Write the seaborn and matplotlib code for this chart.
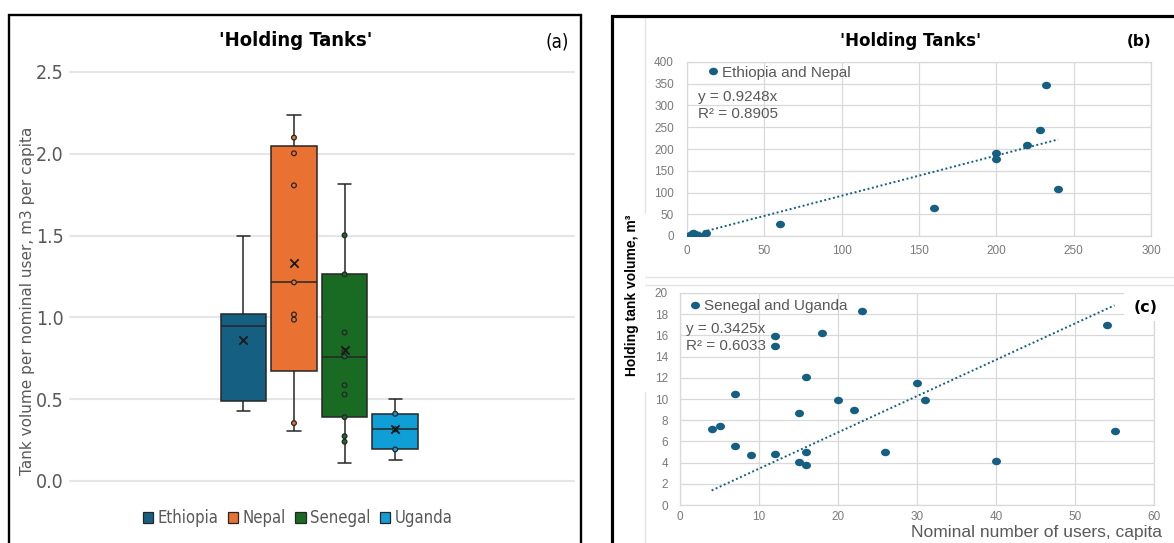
import numpy as np
import pandas as pd
import matplotlib
matplotlib.use("Agg")
import matplotlib.pyplot as plt
from matplotlib import font_manager
from matplotlib.patches import Patch, Rectangle
from matplotlib.lines import Line2D
from matplotlib.path import Path
from matplotlib.transforms import Affine2D
import seaborn as sns

# ---------------- data ----------------
# (a) tank volume per nominal user, m3 per capita
countries = ["Ethiopia", "Nepal", "Senegal", "Uganda"]
country_colors = ["#156082", "#E97132", "#196B24", "#0F9ED5"]
whisker_low = [0.427, 0.307, 0.111, 0.131]
q1 = [0.486, 0.670, 0.390, 0.193]
median = [0.949, 1.214, 0.761, 0.319]
q3 = [1.020, 2.050, 1.263, 0.411]
whisker_high = [1.500, 2.235, 1.813, 0.503]
mean = [0.859, 1.332, 0.802, 0.316]
inner_nepal = [0.354, 0.986, 1.018, 1.214, 1.807, 2.003, 2.099]
inner_senegal = [0.240, 0.274, 0.390, 0.529, 0.586, 0.761, 0.795, 0.908, 1.263, 1.502]
inner_uganda = [0.193, 0.316, 0.411]

# (b) Ethiopia and Nepal: nominal users vs holding tank volume (m3)
users_en = [2, 4, 5, 9, 12, 60, 160, 200, 200, 220, 228, 232, 240]
volume_en = [2, 6, 4, 1, 8, 28, 65, 190, 176, 209, 243, 346, 109]
slope_en, r2_en = 0.9248, 0.8905

# (c) Senegal and Uganda
users_su = [4, 5, 7, 7, 9, 12, 12, 12, 15, 15, 16, 16, 16, 18, 20, 22, 23, 26, 30, 31, 40, 54, 55]
volume_su = [7.2, 7.48, 10.44, 5.6, 4.69, 15.94, 15.0, 4.81, 8.71, 4.03, 12.1, 5.0, 3.77,
             16.26, 9.94, 8.96, 18.33, 5.0, 11.54, 9.94, 4.18, 16.95, 6.95]
slope_su, r2_su = 0.3425, 0.6033

point_color = "#156082"

# ---------------- fonts ----------------
sns.set_style("white")
plt.rcParams["font.family"] = ["DejaVu Sans"]
available = {f.name for f in font_manager.fontManager.ttflist}
if "Liberation Sans Narrow" in available:
    NARROW = dict(fontfamily="Liberation Sans Narrow")
else:
    NARROW = dict(fontfamily="DejaVu Sans", fontstretch="condensed")
SANS = "Liberation Sans" if "Liberation Sans" in available else "DejaVu Sans"

W, H = 1174, 543
fig = plt.figure(figsize=(W / 100, H / 100), dpi=100)


def px_axes(x0, y0, x1, y1):
    return fig.add_axes([x0 / W, 1 - y1 / H, (x1 - x0) / W, (y1 - y0) / H])


def ftext(x, y, s, **kw):
    return fig.text(x / W, 1 - y / H, s, **kw)


def fline(xs, ys, **kw):
    fig.add_artist(Line2D([x / W for x in xs], [1 - y / H for y in ys],
                          transform=fig.transFigure, **kw))


# ---------------- panel (a): box plot ----------------
ax_a = px_axes(70, 72, 574, 481)
summary = pd.DataFrame({
    "country": np.repeat(countries, 5),
    "value": np.column_stack([whisker_low, q1, median, q3, whisker_high]).ravel(),
})
sns.boxplot(data=summary, x="country", y="value", hue="country", order=countries,
            hue_order=countries, palette=country_colors, saturation=1, width=0.9,
            whis=(0, 100), linecolor="#262626", linewidth=1.1, capwidths=0.26,
            legend=False, ax=ax_a)

inner = pd.DataFrame({
    "country": ["Nepal"] * len(inner_nepal) + ["Senegal"] * len(inner_senegal)
               + ["Uganda"] * len(inner_uganda),
    "value": inner_nepal + inner_senegal + inner_uganda,
})
sns.stripplot(data=inner, x="country", y="value", hue="country", order=countries,
              hue_order=countries, palette=country_colors, jitter=False, size=3.4,
              linewidth=0.9, edgecolor="#262626", legend=False, zorder=4, ax=ax_a)

means = pd.DataFrame({"country": countries, "value": mean})
sns.stripplot(data=means, x="country", y="value", order=countries, color="#1a1a1a",
              marker="x", size=6, linewidth=1.3, jitter=False, legend=False,
              zorder=5, ax=ax_a)

ax_a.set_xlim(-3.426, 6.534)
ax_a.set_ylim(0, 2.5)
yt = np.arange(0, 2.51, 0.5)
ax_a.set_yticks(yt, labels=[f"{v:.1f}" for v in yt], fontsize=14, color="#595959", **NARROW)
ax_a.set_xticks([])
ax_a.tick_params(axis="y", length=0, pad=4.5)
ax_a.set_xlabel("")
ax_a.set_ylabel("")
ax_a.grid(axis="y", color="#e6e6e6", linewidth=1.5)
for gl in ax_a.get_ygridlines():
    gl.set_clip_on(False)
ax_a.set_axisbelow(True)
for sp in ax_a.spines.values():
    sp.set_visible(False)

handles = [Patch(facecolor=c, edgecolor="#262626", linewidth=0.9) for c in country_colors]
leg = fig.legend(handles, countries, loc="center", bbox_to_anchor=(297.5 / W, 1 - 518 / H),
                 ncol=4, frameon=False, handlelength=0.65, handleheight=0.65,
                 handletextpad=0.25, columnspacing=0.55, borderpad=0,
                 prop=dict(family=NARROW["fontfamily"], size=12,
                           stretch=NARROW.get("fontstretch", "normal")))
for t in leg.get_texts():
    t.set_color("#595959")

ftext(296, 41, "'Holding Tanks'", ha="center", va="center", fontsize=14.5,
      fontweight="bold", color="black", **NARROW)
ftext(557, 42, "(a)", ha="center", va="center", fontsize=13.5, color="black", **NARROW)
ftext(28, 301, "Tank volume per nominal user, m3 per capita", rotation=90,
      ha="center", va="center", fontsize=11, color="#595959")

# ---------------- panels (b) and (c): scatter with trend line ----------------
ellipse = Path.unit_circle().transformed(Affine2D().scale(1.2, 1.0))


def scatter_panel(ax, xs, ys, slope, xmax, ymax, xstep, ystep, ypad, xpad):
    sns.scatterplot(x=xs, y=ys, color=point_color, marker=ellipse, s=42, linewidth=0,
                    zorder=3, ax=ax)
    xr = np.array([min(xs), max(xs)], dtype=float)
    sns.lineplot(x=xr, y=slope * xr, color=point_color, linewidth=1.4,
                 linestyle=(0, (1, 1.3)), zorder=2, ax=ax)
    ax.set_xlim(0, xmax)
    ax.set_ylim(0, ymax)
    xt = np.arange(0, xmax + 0.1, xstep)
    ytk = np.arange(0, ymax + 0.1, ystep)
    ax.set_xticks(xt, labels=[f"{v:g}" for v in xt], fontsize=8.5, color="#7a7a7a",
                  fontfamily=SANS)
    ax.set_yticks(ytk, labels=[f"{v:g}" for v in ytk], fontsize=8.5, color="#7a7a7a",
                  fontfamily=SANS)
    ax.tick_params(axis="y", length=0, pad=ypad)
    ax.tick_params(axis="x", length=0, pad=xpad)
    ax.grid(True, color="#d9d9d9", linewidth=0.9)
    ax.set_axisbelow(True)
    for sp in ax.spines.values():
        sp.set_color("#d9d9d9")
        sp.set_linewidth(0.9)
    ax.set_xlabel("")
    ax.set_ylabel("")


ax_b = px_axes(687, 62, 1151, 236)
scatter_panel(ax_b, users_en, volume_en, slope_en, 300, 400, 50, 50, 9.5, 6.5)
ax_c = px_axes(680, 293, 1154, 505)
scatter_panel(ax_c, users_su, volume_su, slope_su, 60, 20, 10, 2, 8.6, 4.5)

for ax, label, anchor in [(ax_b, "Ethiopia and Nepal", (707, 72.7)),
                          (ax_c, "Senegal and Uganda", (689, 306))]:
    lg = ax.legend(handles=[ax.collections[0]], labels=[label], loc="center left",
                   bbox_to_anchor=(anchor[0] / W, 1 - anchor[1] / H),
                   bbox_transform=fig.transFigure, frameon=False, borderpad=0,
                   borderaxespad=0, handlelength=0.8, handletextpad=0.2,
                   scatteryoffsets=[0.5], prop=dict(family=SANS, size=11))
    for t in lg.get_texts():
        t.set_color("#595959")

ftext(698, 97, f"y = {slope_en:.4f}x", fontsize=11, color="#595959", fontfamily=SANS,
      va="center")
ftext(698, 114, f"R² = {r2_en:.4f}", fontsize=11, color="#595959", fontfamily=SANS,
      va="center")
ftext(686, 329, f"y = {slope_su:.4f}x", fontsize=11, color="#595959", fontfamily=SANS,
      va="center")
ftext(686, 346, f"R² = {r2_su:.4f}", fontsize=11, color="#595959", fontfamily=SANS,
      va="center")

ftext(911, 41, "'Holding Tanks'", ha="center", va="center", fontsize=12,
      fontweight="bold", color="black")
ftext(1139, 42, "(b)", ha="center", va="center", fontsize=11, fontweight="bold",
      color="black")

# white patch behind the (c) label, over the plot area corner
fig.add_artist(Rectangle((1124 / W, 1 - 321 / H), 50 / W, 30 / H, transform=fig.transFigure,
                         facecolor="white", edgecolor="none", zorder=5))
ftext(1146, 308, "(c)", ha="center", va="center", fontsize=11.5, fontweight="bold",
      color="black", zorder=6)

ftext(632, 295, "Holding tank volume, m³", rotation=90, ha="center", va="center",
      fontsize=10, fontweight="bold", color="black", fontfamily=SANS)
ftext(1162, 533, "Nominal number of users, capita", ha="right", va="center",
      fontsize=12.5, color="#595959", fontfamily=SANS)

# ---------------- chart-area outlines and panel frames ----------------
faint = dict(color="#e4e4e4", linewidth=1.0)
fline([645, 645], [18, 213], **faint)
fline([645, 645], [392, 543], **faint)
fline([645, 1174], [277, 277], **faint)
fline([645, 1174], [285, 285], **faint)

fig.add_artist(Rectangle((8.5 / W, -0.05), (581 - 8.5) / W, 1.05 - 15 / H,
                         transform=fig.transFigure, fill=False, edgecolor="black",
                         linewidth=1.7, zorder=10))
fig.add_artist(Rectangle((611.5 / W, -0.05), 0.6, 1.05 - 15.5 / H,
                         transform=fig.transFigure, fill=False, edgecolor="black",
                         linewidth=2.3, zorder=10))

fig.savefig("out.png", dpi=100)
